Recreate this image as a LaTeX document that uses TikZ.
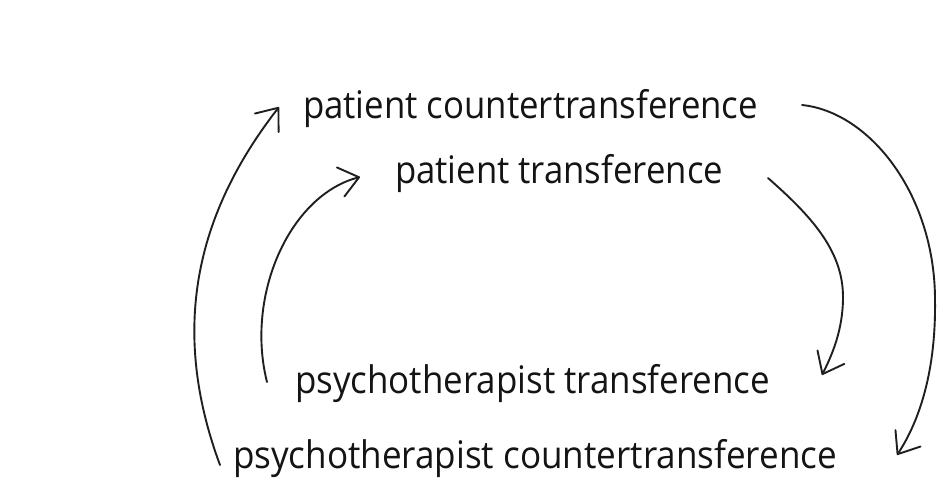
\documentclass[tikz,border=0pt]{standalone}
\usepackage{fontspec}
\setmainfont{Open Sans}
\usetikzlibrary{arrows.meta}
\newcommand\fitw[2]{\resizebox{#1}{\height}{#2}}
\begin{document}
\begin{tikzpicture}[x=1pt,y=-1pt,
  lbl/.style={anchor=base west,inner sep=0pt,outer sep=0pt,font=\fontsize{38}{38}\selectfont,text=black!92},
  conn/.style={line width=1.9pt,draw=black!88,line cap=round,-{Straight Barb[length=19pt,width=30pt,line cap=round,line join=round]}}]
\useasboundingbox[fill=white] (0,0) rectangle (939,483);
\node[lbl] (pct) at (303,118) {\fitw{455pt}{patient countertransference}};
\node[lbl] (pt) at (395,183) {\fitw{328pt}{patient transference}};
\node[lbl] (tt) at (295,393) {\fitw{475pt}{psychotherapist transference}};
\node[lbl] (tct) at (233,468) {\fitw{604pt}{psychotherapist countertransference}};
% outer left
\draw[conn] ([shift={(-13,-3)}]tct.base west) .. controls (170,330) and (195,215) .. ([shift={(-24,-11)}]pct.base west);
% inner left
\draw[conn] ([shift={(-28,-11)}]tt.base west) .. controls (245,295) and (290,195) .. ([shift={(-35,-6)}]pt.base west);
% inner right
\draw[conn] ([shift={(45,-5)}]pt.base east) .. controls (810,215) and (843,250) .. (843,297) .. controls (843,330) and (832,355) .. ([shift={(52,-18)}]tt.base east);
% outer right
\draw[conn] ([shift={(44,-13)}]pct.base east) .. controls (870,112) and (935,195) .. (935,300) .. controls (936,370) and (920,420) .. ([shift={(60,-13)}]tct.base east);
\end{tikzpicture}
\end{document}
